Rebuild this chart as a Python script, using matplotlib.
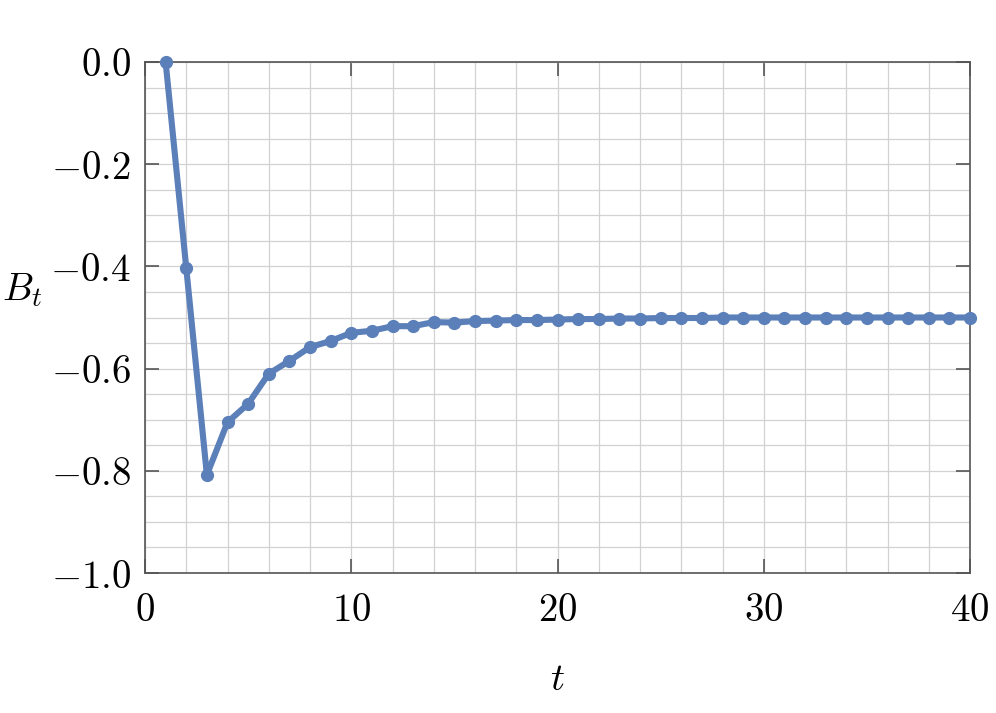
import matplotlib
matplotlib.use("Agg")
import matplotlib.pyplot as plt
from matplotlib.ticker import MultipleLocator, FuncFormatter

plt.rcParams['mathtext.fontset'] = 'cm'
plt.rcParams['font.family'] = 'serif'
plt.rcParams['font.serif'] = ['DejaVu Serif']

t = list(range(1, 41))
B = [0.0, -0.403, -0.808, -0.705, -0.669, -0.610, -0.585, -0.558, -0.546, -0.530,
     -0.526, -0.517, -0.517, -0.509, -0.510, -0.507, -0.506, -0.505, -0.505, -0.504,
     -0.503, -0.503, -0.502, -0.502, -0.501, -0.501, -0.501, -0.500, -0.500, -0.500,
     -0.500, -0.500, -0.500, -0.500, -0.500, -0.500, -0.500, -0.500, -0.500, -0.500]

fig = plt.figure(figsize=(9.96, 7.13), dpi=100)
ax = fig.add_axes([145/996, 1-573/713, (970-145)/996, (573-62)/713])

ax.plot(t, B, color='#5b7fb8', lw=4.4, marker='o', ms=8.5, clip_on=False, zorder=3)

ax.set_xlim(0, 40)
ax.set_ylim(-1.0, 0.0)
ax.xaxis.set_major_locator(MultipleLocator(10))
ax.xaxis.set_minor_locator(MultipleLocator(2))
ax.yaxis.set_major_locator(MultipleLocator(0.2))
ax.yaxis.set_minor_locator(MultipleLocator(0.05))
ax.grid(which='both', color='#d2d2d2', lw=0.9)
ax.set_axisbelow(True)

ax.xaxis.set_major_formatter(FuncFormatter(lambda v, p: r'$%d$' % round(v)))
ax.yaxis.set_major_formatter(FuncFormatter(lambda v, p: r'$%.1f$' % v if abs(v) > 1e-9 else r'$0.0$'))

ax.tick_params(which='major', direction='in', length=10, width=1.2, color='#555555',
               top=True, right=True, labelsize=28, pad=10)
ax.tick_params(axis='x', which='major', pad=14)
ax.tick_params(which='minor', length=0, top=True, right=True)
for s in ax.spines.values():
    s.set_color('#555555')
    s.set_linewidth(1.2)

fig.text(557/996, 1-680/713, r'$t$', fontsize=28, ha='center', va='center')
fig.text(22/996, 1-290/713, r'$B_t$', fontsize=28, ha='center', va='center')

fig.savefig('out.png', dpi=100)
